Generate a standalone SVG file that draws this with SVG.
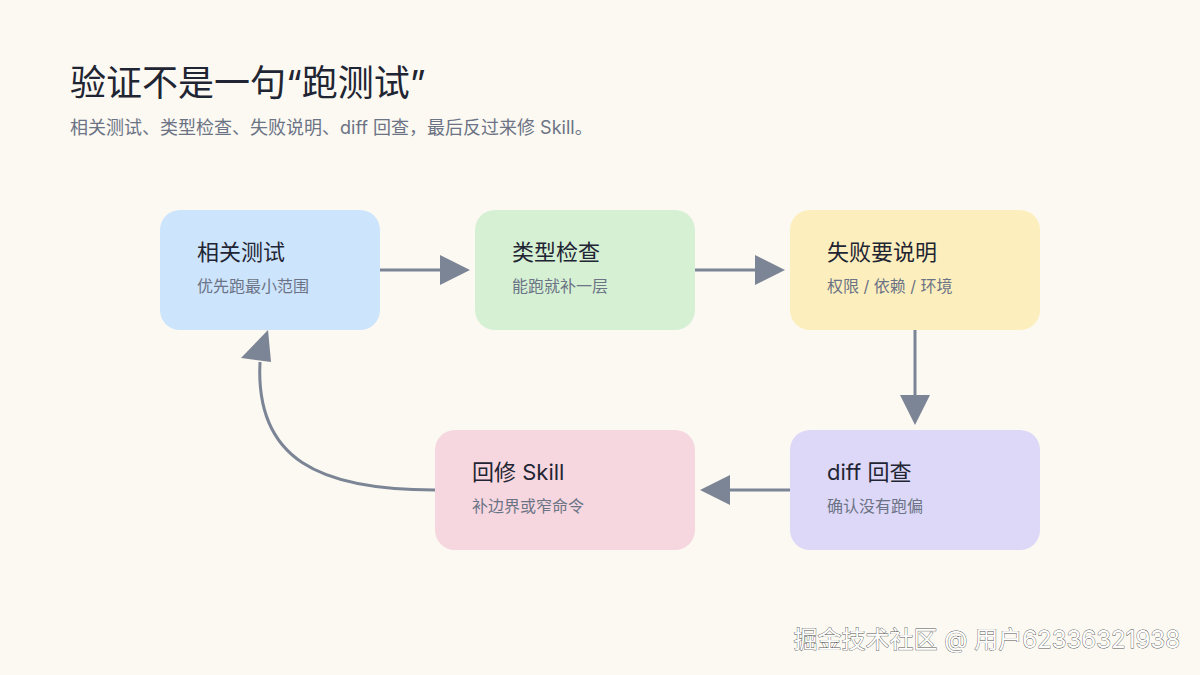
<svg xmlns="http://www.w3.org/2000/svg" width="1200" height="675" viewBox="0 0 1200 675">
<style>
text{font-family:"Inter","Noto Sans CJK SC",sans-serif}
.t{font-size:22px;fill:#1f2533}
.s{font-size:16px;fill:#6b7385}
.c{fill:none;stroke:#7c8596;stroke-width:3}
.h{fill:#7c8596}
</style>
<rect width="1200" height="675" fill="#fbf9f1"/>
<text x="70" y="96" style="font-size:36px;fill:#1f2533">验证不是一句“跑测试”</text>
<text x="70" y="134" style="font-size:18px;fill:#6b7385">相关测试、类型检查、失败说明、diff 回查，最后反过来修 Skill。</text>
<g id="connectors">
<path class="c" d="M380 270 H440"/><path class="h" d="M440 255 L470 270 L440 285 Z"/>
<path class="c" d="M695 270 H755"/><path class="h" d="M755 255 L785 270 L755 285 Z"/>
<path class="c" d="M915 330 V395"/><path class="h" d="M900 395 L915 425 L930 395 Z"/>
<path class="c" d="M790 490 H730"/><path class="h" d="M730 475 L700 490 L730 505 Z"/>
<path class="c" d="M435 490 C 320 490 255 460 260 362"/><path class="h" d="M241 358 L268 330 L271 362 Z"/>
</g>
<g id="n1"><rect x="160" y="210" width="220" height="120" rx="20" fill="#cde4fd"/><text class="t" x="197" y="260">相关测试</text><text class="s" x="197" y="292">优先跑最小范围</text></g>
<g id="n2"><rect x="475" y="210" width="220" height="120" rx="20" fill="#d6f0d4"/><text class="t" x="512" y="260">类型检查</text><text class="s" x="512" y="292">能跑就补一层</text></g>
<g id="n3"><rect x="790" y="210" width="250" height="120" rx="20" fill="#fdefbd"/><text class="t" x="827" y="260">失败要说明</text><text class="s" x="827" y="292">权限 / 依赖 / 环境</text></g>
<g id="n4"><rect x="790" y="430" width="250" height="120" rx="20" fill="#ddd8f7"/><text class="t" x="827" y="480">diff 回查</text><text class="s" x="827" y="512">确认没有跑偏</text></g>
<g id="n5"><rect x="435" y="430" width="260" height="120" rx="20" fill="#f6d7e0"/><text class="t" x="472" y="480">回修 Skill</text><text class="s" x="472" y="512">补边界或窄命令</text></g>
<text x="1180" y="648" text-anchor="end" style="font-size:24px;fill:#ffffff;stroke:#555;stroke-width:0.8;paint-order:stroke">掘金技术社区 @ 用户62336321938</text>
</svg>
